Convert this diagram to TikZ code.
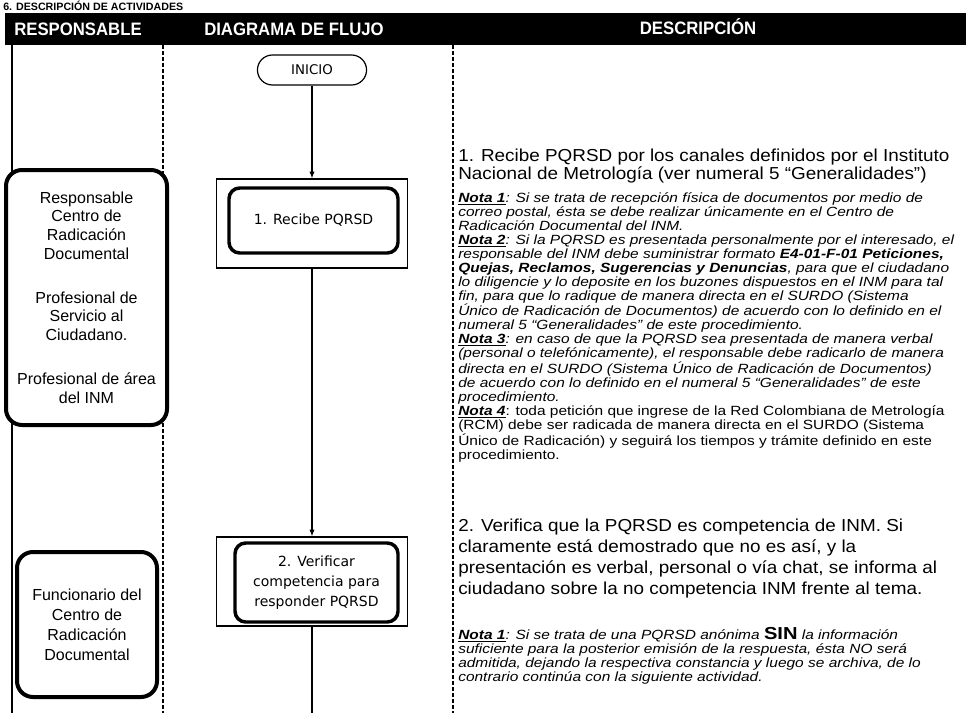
\documentclass[tikz,border=0pt]{standalone}
\usepackage{fontspec}
\setmainfont{Liberation Sans}
\newfontfamily\flujofont{DejaVu Sans}
\newfontfamily\cabecerafont[FakeStretch=0.93]{Liberation Sans}
\newfontfamily\descfont[FakeStretch=1.09]{Liberation Sans}
\newfontfamily\notafont[FakeStretch=1.16]{Liberation Sans}
\usetikzlibrary{shapes.misc,arrows.meta}

\newcommand{\etiqueta}[1]{\underline{\textbf{Nota #1}}}

\begin{document}
\begin{tikzpicture}[x=0.75pt,y=-0.75pt,
		encabezado/.style={text=white, inner sep=0pt, font=\cabecerafont\bfseries\fontsize{13.5}{13.5}\selectfont},
		separador/.style={dash pattern=on 3pt off 1.5pt, line width=0.8pt},
		actor/.style={draw, fill=white, line width=3pt, rounded corners=12pt, align=center, inner sep=2pt, font=\fontsize{12}{14}\selectfont},
		marco/.style={draw, line width=1.1pt, minimum width=143.25pt, minimum height=66.75pt},
		actividad/.style={draw, fill=white, line width=2.6pt, rounded corners=8pt, align=center, font=\flujofont\fontsize{10.5}{15}\selectfont},
		flecha/.style={line width=0.8pt, -{Latex[length=5pt,width=4pt]}},
		descripcion/.style={anchor=north west, inner sep=0pt, align=left, font=\descfont\fontsize{13}{13.5}\selectfont},
		nota/.style={anchor=north west, inner sep=0pt, align=left, font=\notafont\itshape\fontsize{10}{10.5}\selectfont}]
	\useasboundingbox (0,0) rectangle (966,713);

	% titulo
	\node[anchor=west, inner sep=0pt, font=\bfseries\fontsize{8}{8}\selectfont] (titulo) at (3,5.5) {6. DESCRIPCIÓN DE ACTIVIDADES};

	% cabecera
	\fill (5,13) rectangle (966,45);
	\node[encabezado] (hResp) at (78,29) {RESPONSABLE};
	\node[encabezado] (hFlujo) at (294,29) {DIAGRAMA DE FLUJO};
	\node[encabezado] (hDesc) at (698,27) {DESCRIPCIÓN};

	% columnas
	\draw[line width=0.8pt] (12,45) -- (12,713);
	\draw[separador] (163,45) -- (163,713);
	\draw[separador] (453,45) -- (453,713);

	% responsables
	\node[actor, minimum width=120.75pt, minimum height=191.25pt] (respA) at (86.5,297.5) {Responsable\\Centro de\\Radicación\\Documental\\[19pt]Profesional de\\Servicio al\\Ciudadano.\\[19pt]Profesional de área\\del INM};
	\node[actor, minimum width=105pt, minimum height=108.75pt, font=\fontsize{12}{15}\selectfont] (respB) at (87,624.5) {Funcionario del\\Centro de\\Radicación\\Documental};

	% diagrama de flujo
	\node[draw, rounded rectangle, line width=0.9pt, minimum width=88.5pt, minimum height=22.5pt, font=\flujofont\fontsize{10}{10}\selectfont] (inicio) at (312,70) {INICIO};
	\node[marco] (marcoA) at (312,223.5) {};
	\node[actividad, minimum width=126.75pt, minimum height=48.75pt] (recibe) at (313.5,220.5) {1. Recibe PQRSD};
	\node[marco] (marcoB) at (312,581.5) {};
	\node[actividad, minimum width=122.25pt, minimum height=59.25pt] (verifica) at (316.5,582.5) {2. Verificar\\competencia para\\responder PQRSD};
	\coordinate (salida) at (312,713);
	\draw[flecha] (inicio.south) -- (inicio.south |- marcoA.north);
	\draw[flecha] (marcoA.south) -- (marcoB.north);
	\draw[line width=0.8pt] (marcoB.south) -- (salida);

	% descripcion
	\node[descripcion] (desc1) at (458,149) {1. Recibe PQRSD por los canales definidos por el Instituto\\Nacional de Metrología (ver numeral 5 “Generalidades”)};
	\node[nota] (notas1) at (458,192) {\etiqueta{1}: Si se trata de recepción física de documentos por medio de\\
		correo postal, ésta se debe realizar únicamente en el Centro de\\
		Radicación Documental del INM.\\
		\etiqueta{2}: Si la PQRSD es presentada personalmente por el interesado, el\\
		responsable del INM debe suministrar formato \textbf{E4-01-F-01 Peticiones,}\\
		\textbf{Quejas, Reclamos, Sugerencias y Denuncias}, para que el ciudadano\\
		lo diligencie y lo deposite en los buzones dispuestos en el INM para tal\\
		fin, para que lo radique de manera directa en el SURDO (Sistema\\
		Único de Radicación de Documentos) de acuerdo con lo definido en el\\
		numeral 5 “Generalidades” de este procedimiento.\\
		\etiqueta{3}: en caso de que la PQRSD sea presentada de manera verbal\\
		(personal o telefónicamente), el responsable debe radicarlo de manera\\
		directa en el SURDO (Sistema Único de Radicación de Documentos)\\
		de acuerdo con lo definido en el numeral 5 “Generalidades” de este\\
		procedimiento.\\
		\etiqueta{4}\upshape: toda petición que ingrese de la Red Colombiana de Metrología\\
		\upshape(RCM) debe ser radicada de manera directa en el SURDO (Sistema\\
		\upshape Único de Radicación) y seguirá los tiempos y trámite definido en este\\
		\upshape procedimiento.};
	\node[descripcion, font=\descfont\fontsize{13}{15.75}\selectfont] (desc2) at (458,519) {2. Verifica que la PQRSD es competencia de INM. Si\\
		claramente está demostrado que no es así, y la\\
		presentación es verbal, personal o vía chat, se informa al\\
		ciudadano sobre la no competencia INM frente al tema.};
	\node[nota] (notas2) at (458,627) {\etiqueta{1}: Si se trata de una PQRSD anónima {\upshape\bfseries\fontsize{13}{10.5}\selectfont SIN} la información\\
		suficiente para la posterior emisión de la respuesta, ésta NO será\\
		admitida, dejando la respectiva constancia y luego se archiva, de lo\\
		contrario continúa con la siguiente actividad.};
\end{tikzpicture}
\end{document}
